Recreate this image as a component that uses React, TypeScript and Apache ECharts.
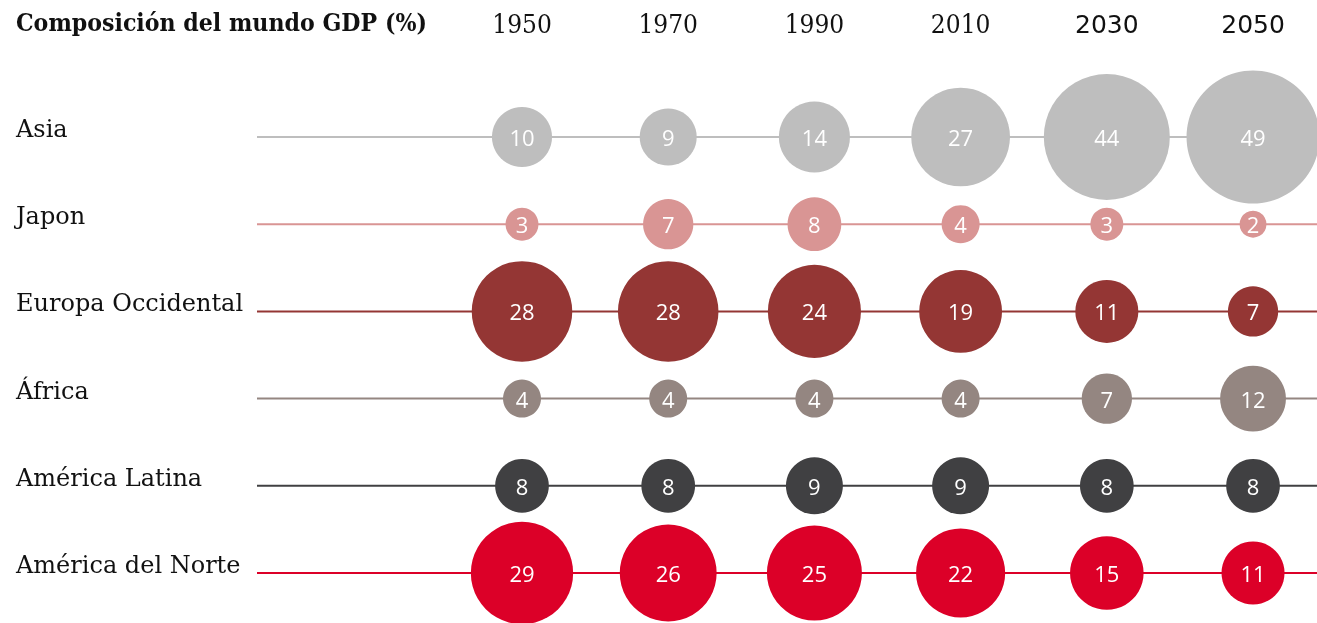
import React, { useEffect, useRef } from "react";
import * as echarts from "echarts";

const regions = ["Asia", "Japon", "Europa Occidental", "África", "América Latina", "América del Norte"];
const years = [1950, 1970, 1990, 2010, 2030, 2050];
const asia = [10, 9, 14, 27, 44, 49];
const japon = [3, 7, 8, 4, 3, 2];
const europa = [28, 28, 24, 19, 11, 7];
const africa = [4, 4, 4, 4, 7, 12];
const latina = [8, 8, 9, 9, 8, 8];
const norte = [29, 26, 25, 22, 15, 11];
const colors = ["#bebebe", "#d99594", "#943634", "#948681", "#404042", "#dc0028"];

const X_MIN = 1913.75;
const X_MAX = 2058.75;

export default function App() {
  const ref = useRef<HTMLDivElement>(null);
  useEffect(() => {
    if (!ref.current) return;
    const chart = echarts.init(ref.current, undefined, { renderer: "svg" });
    const rows = [asia, japon, europa, africa, latina, norte];
    const series: any[] = [];
    rows.forEach((vals, i) => {
      series.push({
        type: "line",
        data: [[X_MIN, i], [X_MAX, i]],
        symbol: "none",
        silent: true,
        z: 1,
        lineStyle: { color: colors[i], width: 2 },
      });
    });
    rows.forEach((vals, i) => {
      series.push({
        type: "scatter",
        name: regions[i],
        data: years.map((y, j) => [y, i, vals[j]]),
        symbolSize: (d: number[]) => 19 * Math.sqrt(d[2]),
        clip: false,
        z: 3,
        itemStyle: { color: colors[i], opacity: 1 },
        label: {
          show: true,
          position: "inside",
          formatter: (p: any) => String(p.value[2]),
          color: "#fff",
          fontSize: 22,
          fontFamily: "Open Sans",
        },
      });
    });
    chart.setOption({
      animation: false,
      title: {
        text: "Composición del mundo GDP (%)",
        left: 11,
        top: 5,
        textStyle: { fontFamily: "DejaVu Serif Condensed", fontWeight: "bold", fontSize: 24.6, color: "#111" },
      },
      grid: { left: 257, right: 0, top: 0, bottom: 0 },
      xAxis: {
        type: "value",
        min: X_MIN,
        max: X_MAX,
        position: "top",
        axisLine: { show: false },
        axisTick: { show: false },
        splitLine: { show: false },
        axisLabel: {
          customValues: years,
          inside: true,
          margin: 24,
          verticalAlign: "middle",
          formatter: (v: number) => (v > 2010 ? `{s|${v}}` : `{r|${v}}`),
          rich: {
            r: { fontFamily: "DejaVu Serif Condensed", fontSize: 26, color: "#111" },
            s: { fontFamily: "DejaVu Sans", fontSize: 25, color: "#111" },
          },
        },
      },
      yAxis: {
        type: "value",
        inverse: true,
        min: -1.571,
        max: 5.573,
        axisLine: { show: false },
        axisTick: { show: false },
        splitLine: { show: false },
        axisLabel: {
          customValues: [0, 1, 2, 3, 4, 5],
          formatter: (v: number) => regions[v],
          align: "left",
          margin: 241,
          verticalAlign: "bottom",
          lineHeight: 16,
          color: "#111",
          fontFamily: "DejaVu Serif",
          fontSize: 24,
        },
      },
      series,
    });
    return () => chart.dispose();
  }, []);
  return <div ref={ref} style={{ position: "fixed", left: 0, top: 0, width: 1317, height: 623 }} />;
}
